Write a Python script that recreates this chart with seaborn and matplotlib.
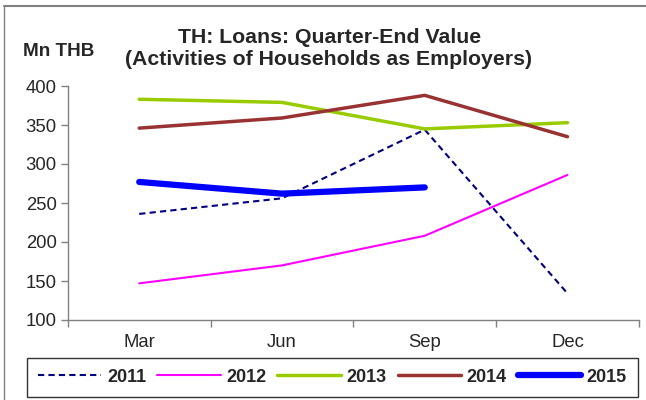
import matplotlib
matplotlib.use("Agg")
import matplotlib.pyplot as plt
from matplotlib.lines import Line2D
import seaborn as sns
import pandas as pd

months = ["Mar", "Jun", "Sep", "Dec"]
y2011 = [236, 256, 344, 134]
y2012 = [147, 170, 208, 286]
y2013 = [383, 379, 345, 353]
y2014 = [346, 359, 388, 335]
y2015 = [277, 262, 270]

series = [
    ("2011", y2011, "#000080", 1.5, (0, (3, 2))),
    ("2012", y2012, "#FF00FF", 1.5, "-"),
    ("2013", y2013, "#99CC00", 2.5, "-"),
    ("2014", y2014, "#993333", 2.5, "-"),
    ("2015", y2015, "#0000FF", 4.5, "-"),
]

sns.set_style("white")
plt.rcParams["font.family"] = ["Liberation Sans", "DejaVu Sans"]

fig = plt.figure(figsize=(6.46, 4.0), dpi=100)
ax = fig.add_axes([0.105, 0.2, 0.884, 0.585])

handles = []
for name, vals, color, lw, ls in series:
    df = pd.DataFrame({"month": months[:len(vals)], "value": vals})
    sns.lineplot(data=df, x="month", y="value", ax=ax, color=color,
                 linewidth=lw, linestyle=ls, sort=False, legend=False)
    handles.append(Line2D([], [], color=color, lw=lw, linestyle=ls,
                          solid_capstyle="round", label=name))
for ln in ax.lines:
    ln.set_solid_capstyle("round")

ax.set_xlim(-0.5, 3.5)
ax.set_ylim(100, 400)
ax.set_yticks([100, 150, 200, 250, 300, 350, 400])
ax.set_xticks([-0.5, 0.5, 1.5, 2.5, 3.5])
ax.set_xticklabels([])
ax.set_xticks(range(len(months)), minor=True)
ax.set_xticklabels(months, minor=True)
ax.tick_params(axis="x", which="major", length=5, width=1, color="#808080",
               direction="out", bottom=True)
ax.tick_params(axis="x", which="minor", length=0, pad=10, labelsize=13.3)
ax.tick_params(axis="y", length=5, width=1, color="#808080", direction="out",
               left=True, labelsize=13.3, pad=3)
ax.set_xlabel("")
ax.set_ylabel("")
for side in ["top", "right"]:
    ax.spines[side].set_visible(False)
for side in ["left", "bottom"]:
    ax.spines[side].set_color("#808080")
    ax.spines[side].set_linewidth(1)

fig.text(0.51, 0.8925, "TH: Loans: Quarter-End Value", ha="center",
         va="baseline", fontsize=15.3, fontweight="bold")
fig.text(0.509, 0.8375, "(Activities of Households as Employers)",
         ha="center", va="baseline", fontsize=15.3, fontweight="bold")
fig.text(0.035, 0.861, "Mn THB", ha="left", va="baseline", fontsize=13.6,
         fontweight="bold")

leg = fig.legend(handles=handles, loc="lower left", ncol=5,
                 bbox_to_anchor=(0.0418, 0.0075, 0.946, 0.0975),
                 mode="expand", frameon=True, fancybox=False,
                 handlelength=3.5, handletextpad=0.33, columnspacing=0.7,
                 borderpad=0.62, borderaxespad=0,
                 prop={"weight": "bold", "size": 13})
leg.get_frame().set_edgecolor("black")
leg.get_frame().set_linewidth(1)

# outer frame lines
fig.add_artist(Line2D([0.006, 1.0], [0.985, 0.985], color="#808080", lw=1.5,
                      transform=fig.transFigure))
fig.add_artist(Line2D([0.006, 0.006], [0.0, 0.985], color="#808080", lw=1,
                      transform=fig.transFigure))

fig.savefig("out.png", dpi=100)
